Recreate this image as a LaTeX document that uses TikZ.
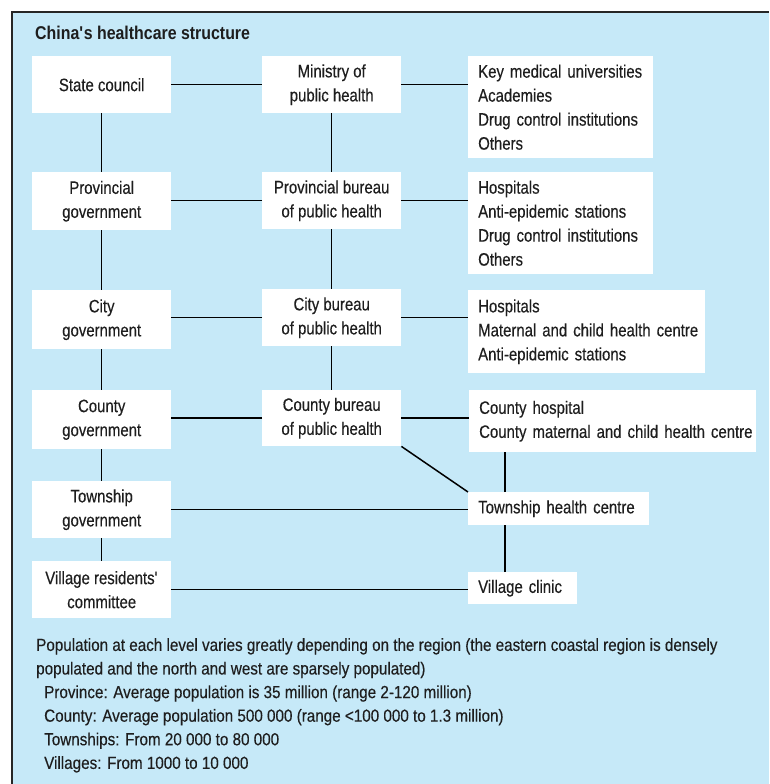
\documentclass[tikz,border=0pt]{standalone}
\usepackage{fontspec}
\setmainfont{Liberation Sans}[FakeStretch=0.83, FakeBold=0.3]
\newfontfamily\notefont{Liberation Sans}[FakeStretch=0.87, FakeBold=0.3]
\newfontfamily\titlefont{Liberation Sans}[FakeStretch=0.86]
\definecolor{bgblue}{HTML}{C6E9F8}
\definecolor{txt}{HTML}{1E1E1E}
\newcommand{\nb}[1]{\mbox{#1}}
\tikzset{
  box/.style={fill=white, inner sep=0pt, align=center, anchor=north west, text=txt,
    font=\fontsize{18}{24}\selectfont},
  listbox/.style={box, align=left, inner xsep=10pt},
  conn/.style={line width=1.5pt, black},
}
\begin{document}
\begin{tikzpicture}[x=1pt, y=-1pt]
\useasboundingbox (0,0) rectangle (769,784);
\fill[bgblue] (12,12) rectangle (769,784);
\draw[line width=1.2pt, black!85] (12,784) -- (12,12) -- (769,12);

\node[anchor=west, text=txt, inner sep=0pt, font=\titlefont\fontsize{18.5}{22}\selectfont\bfseries] (title) at (35,33) {China\textquotesingle s healthcare structure};

% column A
\node[box, minimum width=139pt, minimum height=57pt] (sc) at (32,56) {State council};
\node[box, minimum width=139pt, minimum height=58pt] (pg) at (32,172) {Provincial\\government};
\node[box, minimum width=139pt, minimum height=59pt] (cg) at (32,290) {City\\government};
\node[box, minimum width=139pt, minimum height=59pt] (cog) at (32,390) {County\\government};
\node[box, minimum width=139pt, minimum height=57pt] (tg) at (32,481) {Township\\government};
\node[box, minimum width=139pt, minimum height=57pt] (vr) at (32,561) {Village residents\textquotesingle\\committee};

% column B
\node[box, minimum width=139pt, minimum height=57pt] (mph) at (262,56) {Ministry of\\public health};
\node[box, minimum width=139pt, minimum height=57pt] (pb) at (262,172) {Provincial bureau\\of public health};
\node[box, minimum width=139pt, minimum height=57pt] (cb) at (262,289) {City bureau\\of public health};
\node[box, minimum width=139pt, minimum height=56pt] (cob) at (262,390) {County bureau\\of public health};

% column C
\node[listbox, text width=165pt, minimum height=102pt] (key) at (468,56) {\nb{Key medical universities}\\Academies\\\nb{Drug control institutions}\\Others};
\node[listbox, text width=165pt, minimum height=102pt] (h2) at (468,172) {Hospitals\\\nb{Anti-epidemic stations}\\\nb{Drug control institutions}\\Others};
\node[listbox, text width=217pt, minimum height=83pt] (h3) at (468,290) {Hospitals\\\nb{Maternal and child health centre}\\\nb{Anti-epidemic stations}};
\node[listbox, text width=267pt, minimum height=62pt] (ch) at (469,390) {County hospital\\\nb{County maternal and child health centre}};
\node[listbox, text width=161pt, minimum height=33pt] (thc) at (468,492) {\nb{Township health centre}};
\node[listbox, text width=89pt, minimum height=32pt] (vc) at (468,572) {\nb{Village clinic}};

% connectors
\draw[conn] (sc) -- (mph);
\draw[conn] (mph.east) -- (mph.east -| key.west);
\draw[conn] (sc) -- (pg);
\draw[conn] (mph) -- (pb);
\draw[conn] (pb.west) -- (pb.west -| pg.east);
\draw[conn] (pb.east) -- (pb.east -| h2.west);
\draw[conn] (pg) -- (cg);
\draw[conn] (pb) -- (cb);
\draw[conn] (cb.west) -- (cb.west -| cg.east);
\draw[conn] (cb.east) -- (cb.east -| h3.west);
\draw[conn] (cg) -- (cog);
\draw[conn] (cb) -- (cob);
\draw[conn] (cob.west) -- (cob.west -| cog.east);
\draw[conn] (cob.east) -- (cob.east -| ch.west);
\draw[conn] (cog) -- (tg);
\draw[conn] (tg) -- (vr);
\draw[conn] (tg) -- (tg -| thc.west);
\draw[conn] (cob.south east) -- (thc.north west);
\draw[conn] ([xshift=37pt]thc.north west) -- ([xshift=37pt]thc.north west |- ch.south);
\draw[conn] ([xshift=37pt]vc.north west) -- ([xshift=37pt]vc.north west |- thc.south);
\draw[conn] (vr) -- (vr -| vc.west);

% note
\node[anchor=north west, inner sep=0pt, align=left, text=txt, font=\notefont\fontsize{17.5}{23.6}\selectfont] (note) at (36,638) {Population at each level varies greatly depending on the region (the eastern coastal region is densely\\populated and the north and west are sparsely populated)\\
\hspace*{8pt}Province: Average population is 35 million (range 2-120 million)\\
\hspace*{8pt}County: Average population 500 000 (range <100 000 to 1.3 million)\\
\hspace*{8pt}Townships: From 20 000 to 80 000\\
\hspace*{8pt}Villages: From 1000 to 10 000};
\end{tikzpicture}
\end{document}
